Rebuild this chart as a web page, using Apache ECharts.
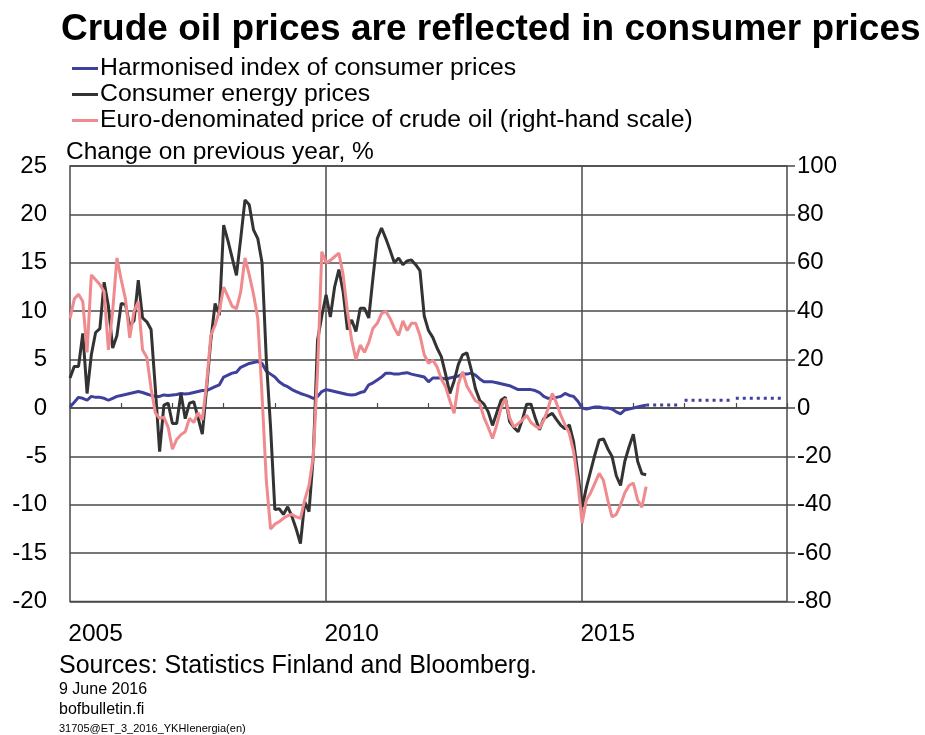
<!DOCTYPE html>
<html><head><meta charset="utf-8">
<script src="https://cdn.jsdelivr.net/npm/echarts@6/dist/echarts.min.js"></script>
<style>html,body{margin:0;padding:0;background:#fff}#c{width:925px;height:735px}</style>
</head><body><div id="c"></div>
<script>
const FONT = "'Liberation Sans', Arial, sans-serif";

// Monthly categories: Jan 2005 .. Jan 2019
const startYear = 2005, endYear = 2018;
const months = [];
for (let y = startYear; y <= endYear; y++) for (let m = 1; m <= 12; m++) months.push(y + '-' + String(m).padStart(2, '0'));
months.push((endYear + 1) + '-01');

const yearLabels = ['2005', '2010', '2015'];
const verticalLineYears = ['2010', '2015'];

// Left axis (%), right axis (%)
const leftAxis = { min: -20, max: 25, step: 5 };
const rightAxis = { min: -80, max: 100, step: 20 };

const seriesNames = [
  'Harmonised index of consumer prices',
  'Consumer energy prices',
  'Euro-denominated price of crude oil (right-hand scale)'
];

// Harmonised index of consumer prices, Jan 2005 – Apr 2016
const hicp = [
  0.1, 0.6, 1.1, 1.0, 0.8, 1.2, 1.1, 1.1, 1.0, 0.8, 1.0, 1.2,
  1.3, 1.4, 1.5, 1.6, 1.7, 1.6, 1.45, 1.3, 1.2, 1.2, 1.35, 1.3,
  1.35, 1.4, 1.5, 1.45, 1.5, 1.6, 1.7, 1.8, 1.8, 2.0, 2.2, 2.4,
  3.2, 3.4, 3.6, 3.7, 4.2, 4.4, 4.6, 4.7, 4.8, 4.6, 3.8, 3.5,
  3.2, 2.7, 2.4, 2.2, 1.9, 1.7, 1.5, 1.35, 1.2, 1.0, 1.2, 1.7,
  1.9, 1.8, 1.7, 1.6, 1.5, 1.4, 1.35, 1.4, 1.6, 1.7, 2.4, 2.6,
  2.9, 3.2, 3.6, 3.6, 3.5, 3.5, 3.6, 3.65, 3.5, 3.4, 3.3, 3.2,
  2.7, 3.1, 3.1, 3.1, 3.0, 3.1, 3.2, 3.3, 3.5, 3.5, 3.6, 3.4,
  3.0, 2.7, 2.7, 2.7, 2.6, 2.5, 2.4, 2.3, 2.1, 1.9, 1.9, 1.9,
  1.9, 1.8, 1.6, 1.2, 1.0, 1.0, 1.1, 1.2, 1.5, 1.3, 1.2, 0.7,
  0.0, -0.1, 0.0, 0.1, 0.1, 0.0, 0.0, -0.1, -0.4, -0.6, -0.2, -0.1,
  0.0, 0.1, 0.2, 0.3
];

// HICP forecast (annual), dotted
const forecastYears = ['2016', '2017', '2018'];
const forecastValues = [0.3, 0.8, 1.0];

// Consumer energy prices, Jan 2005 – Apr 2016
const energy = [
  3.1, 4.3, 4.3, 7.7, 1.5, 5.5, 7.8, 8.2, 13.0, 10.5, 6.2, 7.5,
  10.8, 10.7, 8.5, 9.0, 13.2, 9.3, 8.9, 8.1, 2.0, -4.5, 0.3, 0.5,
  -1.6, -1.6, 1.5, -1.1, 0.5, 0.65, -1.0, -2.7, 2.0, 7.0, 10.8, 9.6,
  18.9, 17.3, 15.5, 13.7, 17.5, 21.5, 21.0, 18.4, 17.5, 15.0, 5.0, -2.0,
  -10.5, -10.4, -11.0, -10.2, -11.2, -12.5, -14.0, -9.7, -10.7, -5.0, 7.0, 9.5,
  11.7, 9.4, 12.5, 14.3, 12.0, 8.1, 9.1, 7.9, 10.3, 10.3, 9.3, 13.5,
  17.5, 18.6, 17.5, 16.3, 15.0, 15.5, 14.8, 15.2, 15.3, 14.8, 14.2, 9.5,
  8.0, 7.3, 6.2, 5.3, 3.5, 1.5, 2.8, 4.5, 5.5, 5.7, 4.0, 2.0,
  0.8, 0.4, -0.4, -1.8, -0.5, 0.8, 1.1, -1.4, -2.0, -2.45, -1.2, 0.4,
  0.4, -1.0, -2.25, -1.1, -0.8, -0.55, -1.2, -1.8, -2.15, -1.75, -3.5, -6.75,
  -10.25, -8.2, -6.5, -4.8, -3.3, -3.2, -4.2, -5.0, -7.0, -8.0, -5.5, -4.0,
  -2.7, -5.5, -6.8, -6.9
];

// Euro-denominated price of crude oil (right-hand scale), Jan 2005 – Apr 2016
const oil = [
  37, 45, 47, 44, 23, 55, 53, 51, 48, 24, 40, 62,
  53, 45, 29, 40, 44, 24, 21, 8, -2, -4.3, -3.8, -8,
  -17, -13, -11, -9.8, -4.3, -6, -2, -5, 10, 30, 34.3, 40,
  50, 46, 42, 41, 48, 62, 55, 47, 37, 5, -30, -50,
  -48, -47, -45.6, -44.5, -44, -45, -45.6, -38, -32, -20, 15, 64.6,
  60, 61, 62.5, 64, 55, 40, 28, 20, 26, 23, 27, 33,
  35, 39, 40, 37, 33, 30, 36, 32, 35, 35, 30, 22,
  18.5, 19.8, 17, 12, 8.8, 3, -2.2, 10, 15, 9, 6, 3,
  2, -4, -8, -12.6, -7, 0, 3.9, -4, -7.8, -6.5, -5, -3,
  -6, -7.4, -8.4, -5, -0.4, 6, 2, -3, -7, -10.5, -18, -31,
  -47.6, -38, -35, -31, -27, -30, -38, -45, -44, -40, -35, -32,
  -31, -38, -41, -32.5
];

const colors = { hicp: '#3f3f9c', energy: '#333333', oil: '#ef8a8e', grid: '#4a4a4a' };

const forecastSeries = forecastYears.map((yr, k) => ({
  name: 'HICP forecast ' + yr,
  type: 'line',
  xAxisIndex: 0, yAxisIndex: 0,
  showSymbol: false,
  silent: true,
  data: months.map((m, idx) =>
    (m.slice(0, 4) === yr && idx >= hicp.length - 1) ? forecastValues[k] : null),
  lineStyle: { color: colors.hicp, width: 3, type: [3, 4], cap: 'butt' },
  itemStyle: { color: colors.hicp },
  z: 3
}));

const chart = echarts.init(document.getElementById('c'), null, { renderer: 'canvas' });

const txt = (text, left, top, size, weight) => ({
  text, left, top, padding: 0,
  textStyle: { fontFamily: FONT, fontSize: size, fontWeight: weight || 'normal', color: '#000' }
});

chart.setOption({
  animation: false,
  backgroundColor: '#fff',
  textStyle: { fontFamily: FONT },
  title: [
    txt('Crude oil prices are reflected in consumer prices', 61, 11, 37, 'bold'),
    txt('Change on previous year, %', 66, 140, 24.5),
    txt('Sources: Statistics Finland and Bloomberg.', 59, 654, 25),
    txt('9 June 2016', 59, 682, 16),
    txt('bofbulletin.fi', 59, 702, 16),
    txt('31705@ET_3_2016_YKHIenergia(en)', 59, 723, 11)
  ],
  legend: {
    data: seriesNames,
    orient: 'vertical',
    left: 72, top: 56,
    padding: 0,
    itemWidth: 26, itemHeight: 3, itemGap: 1,
    icon: 'rect',
    selectedMode: false,
    textStyle: { fontFamily: FONT, fontSize: 24.8, color: '#000', lineHeight: 25, padding: [0, 0, 0, -3] }
  },
  grid: {
    left: 70, top: 166, width: 717, height: 435.6,
    show: true, borderColor: colors.grid, borderWidth: 1.5,
    containLabel: false, outerBoundsMode: 'none'
  },
  xAxis: [
    {
      type: 'category', data: months, boundaryGap: false, position: 'bottom',
      axisLine: { show: false, onZero: false },
      axisTick: { show: false },
      axisLabel: {
        interval: (i, v) => v.endsWith('-07') && yearLabels.includes(v.slice(0, 4)),
        formatter: v => v.slice(0, 4),
        fontFamily: FONT, fontSize: 24.5, color: '#000', margin: 20
      },
      splitLine: {
        show: true,
        interval: (i, v) => v.endsWith('-01') && verticalLineYears.includes(v.slice(0, 4)),
        lineStyle: { color: colors.grid, width: 1.5 }
      }
    },
    {
      type: 'category', data: months, boundaryGap: false, position: 'top',
      axisLine: { show: true, onZero: true, onZeroAxisIndex: 0, lineStyle: { color: colors.grid, width: 1.5 } },
      axisTick: { show: true, inside: false, length: 5, interval: (i, v) => v.endsWith('-01'), lineStyle: { color: colors.grid, width: 1.2 } },
      axisLabel: { show: false },
      splitLine: { show: false }
    }
  ],
  yAxis: [
    {
      type: 'value', position: 'left',
      min: leftAxis.min, max: leftAxis.max, interval: leftAxis.step,
      axisLine: { show: false }, axisTick: { show: false },
      axisLabel: { fontFamily: FONT, fontSize: 24, color: '#000', margin: 23 },
      splitLine: { show: true, lineStyle: { color: colors.grid, width: 1.5 } }
    },
    {
      type: 'value', position: 'right',
      min: rightAxis.min, max: rightAxis.max, interval: rightAxis.step,
      axisLine: { show: false },
      axisTick: { show: true, inside: false, length: 8, lineStyle: { color: colors.grid, width: 1.5 } },
      axisLabel: { fontFamily: FONT, fontSize: 24, color: '#000', margin: 10 },
      splitLine: { show: false }
    }
  ],
  series: [
    {
      name: seriesNames[0], type: 'line', xAxisIndex: 0, yAxisIndex: 0,
      data: hicp, showSymbol: false,
      lineStyle: { color: colors.hicp, width: 3 }, itemStyle: { color: colors.hicp }, z: 3
    },
    ...forecastSeries,
    {
      name: seriesNames[1], type: 'line', xAxisIndex: 0, yAxisIndex: 0,
      data: energy, showSymbol: false,
      lineStyle: { color: colors.energy, width: 3 }, itemStyle: { color: colors.energy }, z: 4
    },
    {
      name: seriesNames[2], type: 'line', xAxisIndex: 0, yAxisIndex: 1,
      data: oil, showSymbol: false,
      lineStyle: { color: colors.oil, width: 3 }, itemStyle: { color: colors.oil }, z: 5
    }
  ]
});
</script>
</body></html>
